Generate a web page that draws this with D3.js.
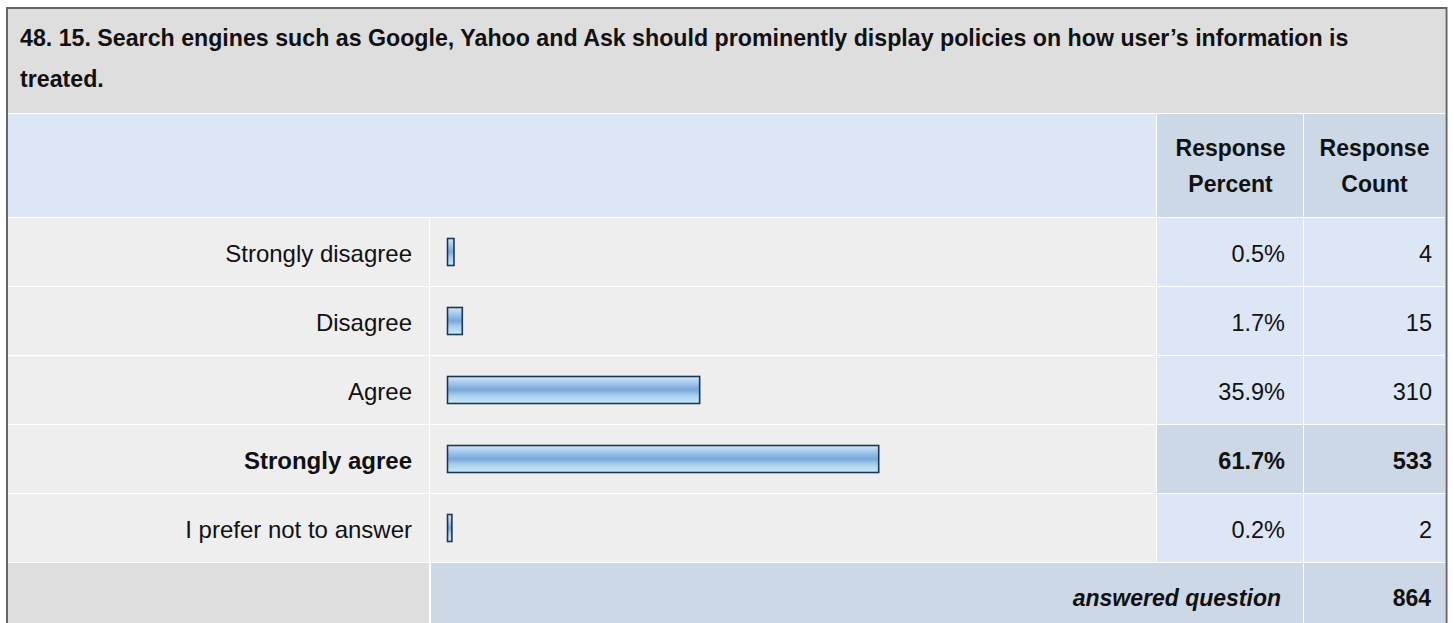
<!DOCTYPE html>
<html>
<head>
<meta charset="utf-8">
<script src="https://cdn.jsdelivr.net/npm/d3@7/dist/d3.min.js"></script>
<style>
  body { margin: 0; background: #fff; }
  text { font-family: "Liberation Sans", Arial, sans-serif; fill: #111; }
</style>
</head>
<body>
<div id="chart"></div>
<script>
// survey data
let titleLines = [
  '48. 15. Search engines such as Google, Yahoo and Ask should prominently display policies on how user\u2019s information is',
  'treated.'
];
let categories = ['Strongly disagree', 'Disagree', 'Agree', 'Strongly agree', 'I prefer not to answer'];
let percents = [0.5, 1.7, 35.9, 61.7, 0.2];
let counts = [4, 15, 310, 533, 2];
let answered = 864;

let width = 1453, height = 623;
let left = 8, right = 1445;
let labelEnd = 429, pctStart = 1157, cntStart = 1304;

let svg = d3.select('#chart').append('svg')
    .attr('width', width)
    .attr('height', height);

let defs = svg.append('defs');
let grad = defs.append('linearGradient')
    .attr('id', 'barGrad')
    .attr('x1', 0).attr('y1', 0).attr('x2', 0).attr('y2', 1);
[['0%', '#d3e8f8'], ['20%', '#a9cdee'], ['50%', '#79a7da'], ['70%', '#a6cfee'], ['100%', '#c8ebf5']]
  .forEach(function(s) {
    grad.append('stop').attr('offset', s[0]).attr('stop-color', s[1]);
  });

// row scale
let y = d3.scaleBand()
    .domain(categories)
    .range([217, 562]);

// bar length scale
let x = d3.scaleLinear()
    .domain([0, 100])
    .range([0, 694]);

let maxCount = d3.max(counts);

// title block
svg.append('rect')
    .attr('x', left).attr('y', 9)
    .attr('width', right - left).attr('height', 104)
    .attr('fill', '#dedede');

svg.selectAll('text.title')
  .data(titleLines)
  .enter().append('text')
    .attr('class', 'title')
    .attr('x', 20)
    .attr('y', function(d, i) { return 46 + i * 41; })
    .style('font-size', '23.2px')
    .style('font-weight', 'bold')
    .text(function(d) { return d; });

// header row
svg.append('rect')
    .attr('x', left).attr('y', 114)
    .attr('width', pctStart - 1 - left).attr('height', 103)
    .attr('fill', '#dce6f4');
svg.append('rect')
    .attr('x', pctStart).attr('y', 114)
    .attr('width', cntStart - 1 - pctStart).attr('height', 103)
    .attr('fill', '#ccd8e6');
svg.append('rect')
    .attr('x', cntStart).attr('y', 114)
    .attr('width', right - cntStart).attr('height', 103)
    .attr('fill', '#ccd8e6');

let headers = [['Response', 'Percent'], ['Response', 'Count']];
let headerX = [(pctStart + cntStart) / 2, (cntStart + right) / 2];
headers.forEach(function(h, j) {
  h.forEach(function(line, i) {
    svg.append('text')
        .attr('x', headerX[j])
        .attr('y', 156 + i * 36)
        .attr('text-anchor', 'middle')
        .style('font-size', '23px')
        .style('font-weight', 'bold')
        .text(line);
  });
});

// body rows
let rows = svg.selectAll('g.row')
  .data(categories)
  .enter().append('g')
    .attr('class', 'row')
    .attr('transform', function(d) { return 'translate(0,' + y(d) + ')'; });

rows.append('rect')
    .attr('x', left).attr('y', 1)
    .attr('width', labelEnd - left).attr('height', y.bandwidth() - 1)
    .attr('fill', '#eeeeee');
rows.append('rect')
    .attr('x', labelEnd + 1).attr('y', 1)
    .attr('width', pctStart - 1 - (labelEnd + 1)).attr('height', y.bandwidth() - 1)
    .attr('fill', '#eeeeee');
rows.append('rect')
    .attr('x', pctStart).attr('y', 1)
    .attr('width', cntStart - 1 - pctStart).attr('height', y.bandwidth() - 1)
    .attr('fill', function(d, i) { return counts[i] == maxCount ? '#ccd8e6' : '#dce6f4'; });
rows.append('rect')
    .attr('x', cntStart).attr('y', 1)
    .attr('width', right - cntStart).attr('height', y.bandwidth() - 1)
    .attr('fill', function(d, i) { return counts[i] == maxCount ? '#ccd8e6' : '#dce6f4'; });

// bars
rows.append('rect')
    .attr('x', 447.5)
    .attr('y', 21.5)
    .attr('width', function(d, i) { return x(percents[i]) + 3; })
    .attr('height', 27)
    .attr('fill', 'url(#barGrad)')
    .attr('stroke', '#1e3656')
    .attr('stroke-width', 1.6);

let textY = 44.5;
rows.append('text')
    .attr('x', 412)
    .attr('y', textY)
    .attr('text-anchor', 'end')
    .style('font-size', '24px')
    .style('font-weight', function(d, i) { return counts[i] == maxCount ? 'bold' : 'normal'; })
    .text(function(d) { return d; });

rows.append('text')
    .attr('x', 1285)
    .attr('y', textY)
    .attr('text-anchor', 'end')
    .style('font-size', '23.5px')
    .style('font-weight', function(d, i) { return counts[i] == maxCount ? 'bold' : 'normal'; })
    .text(function(d, i) { return percents[i].toFixed(1) + '%'; });

rows.append('text')
    .attr('x', 1432)
    .attr('y', textY)
    .attr('text-anchor', 'end')
    .style('font-size', '23.5px')
    .style('font-weight', function(d, i) { return counts[i] == maxCount ? 'bold' : 'normal'; })
    .text(function(d, i) { return counts[i]; });

// footer row
let footY = y.range()[1] + 1;
svg.append('rect')
    .attr('x', left).attr('y', footY)
    .attr('width', labelEnd - left).attr('height', height - footY)
    .attr('fill', '#dedede');
svg.append('rect')
    .attr('x', labelEnd + 2).attr('y', footY)
    .attr('width', cntStart - 1 - (labelEnd + 2)).attr('height', height - footY)
    .attr('fill', '#ccd8e6');
svg.append('rect')
    .attr('x', cntStart).attr('y', footY)
    .attr('width', right - cntStart).attr('height', height - footY)
    .attr('fill', '#ccd8e6');

svg.append('text')
    .attr('x', 1281)
    .attr('y', footY + 43)
    .attr('text-anchor', 'end')
    .style('font-size', '23px')
    .style('font-weight', 'bold')
    .style('font-style', 'italic')
    .text('answered question');
svg.append('text')
    .attr('x', 1431)
    .attr('y', footY + 43)
    .attr('text-anchor', 'end')
    .style('font-size', '23px')
    .style('font-weight', 'bold')
    .text(answered);

// outer border
svg.append('path')
    .attr('d', 'M7,' + height + 'V8H1446.5V' + height)
    .attr('fill', 'none')
    .attr('stroke', '#666')
    .attr('stroke-width', 2);
</script>
</body>
</html>
